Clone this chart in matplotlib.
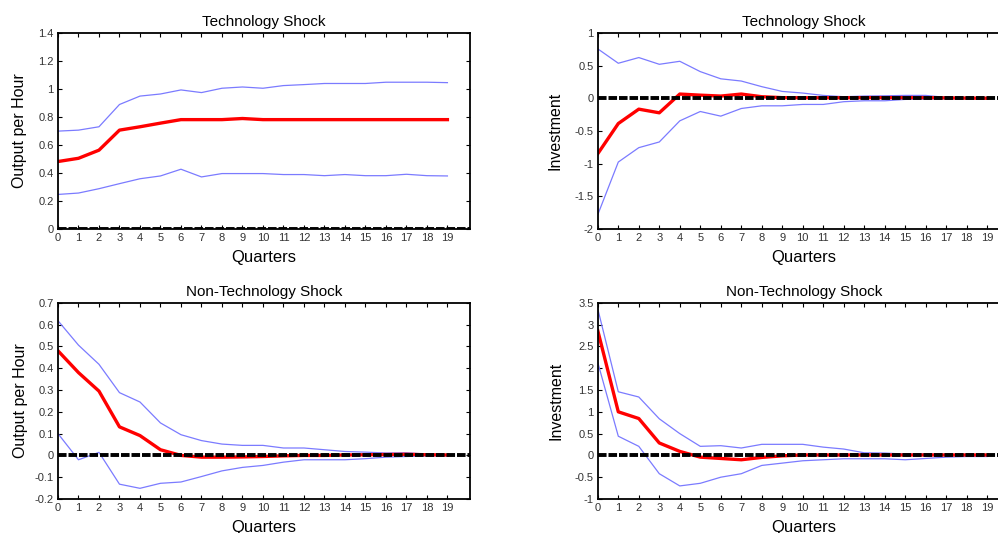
import numpy as np
import matplotlib.pyplot as plt

plt.rcParams['font.family'] = ['Liberation Sans', 'DejaVu Sans']

quarters = np.arange(20)

# Technology shock, output per hour
tech_oph = [0.483, 0.506, 0.564, 0.707, 0.731, 0.757, 0.782, 0.782, 0.782, 0.79,
            0.782, 0.782, 0.782, 0.782, 0.782, 0.782, 0.782, 0.782, 0.782, 0.782]
tech_oph_hi = [0.70, 0.707, 0.731, 0.89, 0.95, 0.965, 0.994, 0.975, 1.006, 1.015,
               1.006, 1.025, 1.032, 1.04, 1.04, 1.04, 1.049, 1.049, 1.049, 1.046]
tech_oph_lo = [0.248, 0.258, 0.289, 0.325, 0.36, 0.38, 0.428, 0.373, 0.397, 0.397,
               0.397, 0.39, 0.39, 0.382, 0.39, 0.382, 0.382, 0.392, 0.382, 0.38]

# Technology shock, investment
tech_inv = [-0.845, -0.384, -0.164, -0.22, 0.067, 0.05, 0.036, 0.067, 0.026, 0.012,
            0.01, 0.01, 0.01, 0.012, 0.012, 0.012, 0.012, 0.008, 0.005, 0.003]
tech_inv_hi = [0.758, 0.538, 0.625, 0.522, 0.568, 0.41, 0.30, 0.266, 0.18, 0.107,
               0.082, 0.046, 0.026, 0.036, 0.04, 0.046, 0.046, 0.015, 0.01, 0.005]
tech_inv_lo = [-1.777, -0.973, -0.753, -0.666, -0.343, -0.2, -0.271, -0.154, -0.113, -0.113,
               -0.092, -0.092, -0.05, -0.036, -0.036, -0.015, -0.01, -0.005, -0.005, -0.005]

# Non-technology shock, output per hour
ntech_oph = [0.48, 0.38, 0.295, 0.131, 0.091, 0.026, 0.0, -0.008, -0.008, -0.007,
             -0.005, -0.002, 0.0, 0.0, 0.002, 0.003, 0.004, 0.005, 0.003, 0.002]
ntech_oph_hi = [0.618, 0.506, 0.418, 0.288, 0.245, 0.149, 0.095, 0.068, 0.052, 0.046,
                0.046, 0.034, 0.034, 0.026, 0.018, 0.015, 0.011, 0.012, 0.006, 0.003]
ntech_oph_lo = [0.1, -0.02, 0.014, -0.132, -0.151, -0.128, -0.122, -0.097, -0.071, -0.055,
                -0.046, -0.031, -0.02, -0.02, -0.02, -0.015, -0.008, -0.005, -0.002, -0.002]

# Non-technology shock, investment
ntech_inv = [2.86, 1.0, 0.846, 0.285, 0.092, -0.04, -0.07, -0.1, -0.046, -0.01,
             0.01, 0.01, 0.01, 0.01, 0.01, 0.01, 0.01, 0.01, 0.01, 0.01]
ntech_inv_hi = [3.36, 1.46, 1.34, 0.84, 0.5, 0.208, 0.223, 0.17, 0.254, 0.254,
                0.254, 0.19, 0.146, 0.06, 0.054, 0.03, 0.03, 0.02, 0.02, 0.01]
ntech_inv_lo = [2.13, 0.44, 0.208, -0.42, -0.7, -0.64, -0.5, -0.42, -0.23, -0.177,
                -0.123, -0.1, -0.077, -0.077, -0.077, -0.1, -0.07, -0.04, -0.025, -0.025]

panels = [
    ("Technology Shock", "Output per Hour", tech_oph, tech_oph_hi, tech_oph_lo,
     (0, 1.4), np.arange(0, 1.41, 0.2), ["0", "0.2", "0.4", "0.6", "0.8", "1", "1.2", "1.4"]),
    ("Technology Shock", "Investment", tech_inv, tech_inv_hi, tech_inv_lo,
     (-2, 1), np.arange(-2, 1.01, 0.5), ["-2", "-1.5", "-1", "-0.5", "0", "0.5", "1"]),
    ("Non-Technology Shock", "Output per Hour", ntech_oph, ntech_oph_hi, ntech_oph_lo,
     (-0.2, 0.7), np.arange(-0.2, 0.71, 0.1), ["-0.2", "-0.1", "0", "0.1", "0.2", "0.3", "0.4", "0.5", "0.6", "0.7"]),
    ("Non-Technology Shock", "Investment", ntech_inv, ntech_inv_hi, ntech_inv_lo,
     (-1, 3.5), np.arange(-1, 3.51, 0.5), ["-1", "-0.5", "0", "0.5", "1", "1.5", "2", "2.5", "3", "3.5"]),
]

# axes rectangles in figure fraction [left, bottom, width, height]
rects = [
    [0.0581, 0.570, 0.4128, 0.368],
    [0.599, 0.570, 0.4128, 0.368],
    [0.0581, 0.0638, 0.4128, 0.368],
    [0.599, 0.0638, 0.4128, 0.368],
]
ylabel_pads = [8, 9, 5, 8]

fig = plt.figure(figsize=(9.98, 5.33), dpi=100)

for rect, pad, (title, ylab, mid, hi, lo, ylim, yt, ytl) in zip(rects, ylabel_pads, panels):
    ax = fig.add_axes(rect)
    ax.plot(quarters, hi, color="#7b7bff", lw=0.9)
    ax.plot(quarters, lo, color="#7b7bff", lw=0.9)
    ax.plot(quarters, mid, color="#ff0000", lw=2.4)
    ax.axhline(0, color="black", lw=2.8, linestyle=(0, (2.2, 0.5)), zorder=3)
    ax.set_xlim(0, 20.1)
    ax.set_ylim(*ylim)
    ax.set_xticks(quarters)
    ax.set_xticklabels([str(q) for q in quarters])
    ax.set_yticks(yt)
    ax.set_yticklabels(ytl)
    ax.tick_params(direction="in", length=3, width=0.8, labelsize=8,
                   labelcolor="#333333", top=True, right=True, pad=3)
    for s in ax.spines.values():
        s.set_linewidth(1.3)
    ax.set_title(title, fontsize=11, pad=5)
    ax.set_xlabel("Quarters", fontsize=12, labelpad=5)
    ax.set_ylabel(ylab, fontsize=11.5, labelpad=pad)

fig.savefig("out.png", dpi=100)
